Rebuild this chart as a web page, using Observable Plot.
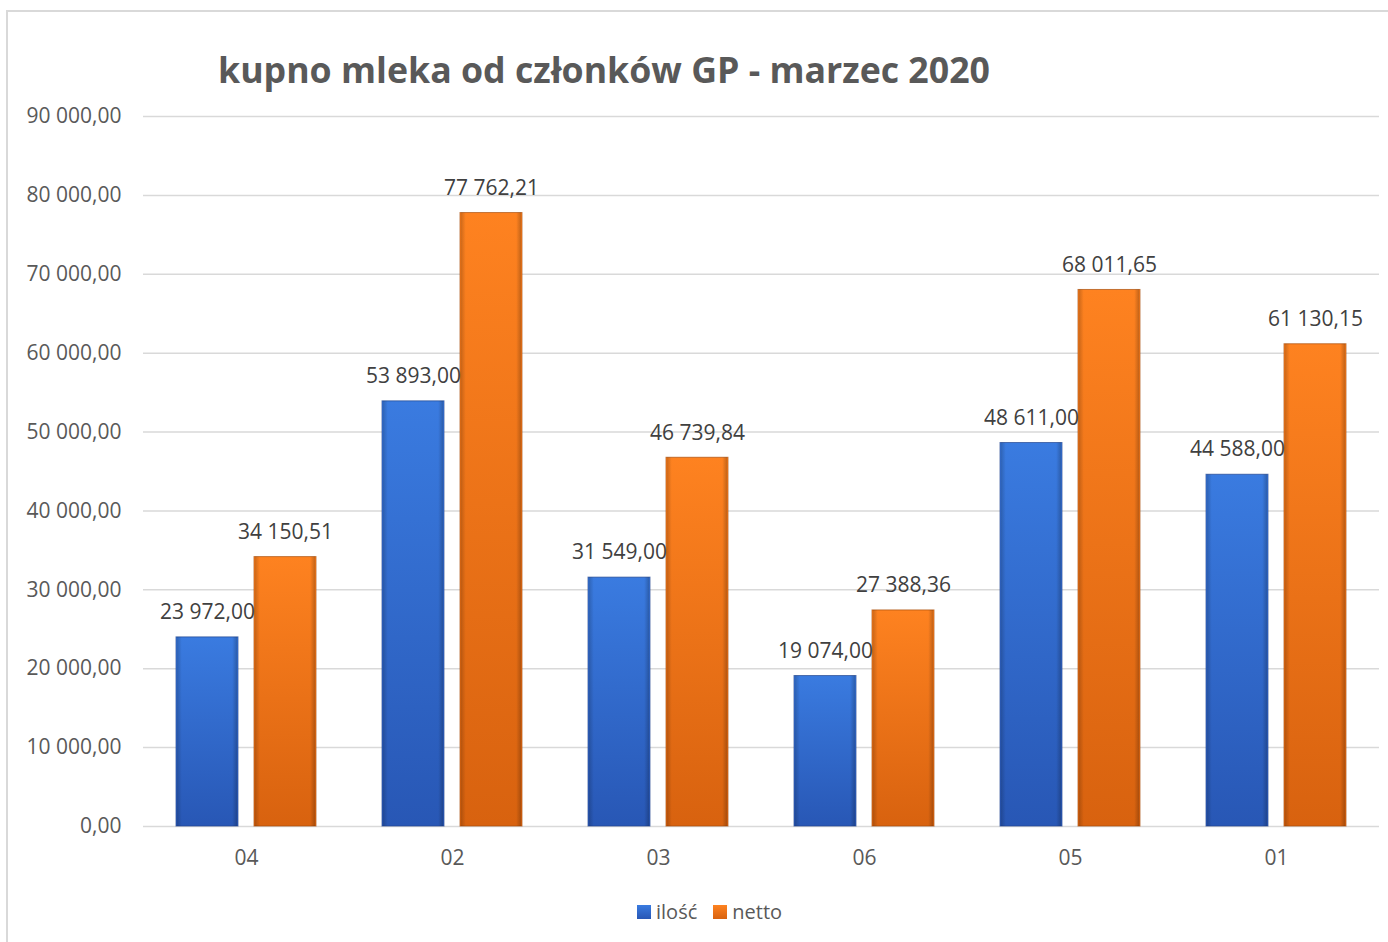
<!DOCTYPE html>
<html>
<head>
<meta charset="utf-8">
<script src="https://cdn.jsdelivr.net/npm/d3@7"></script>
<script src="https://cdn.jsdelivr.net/npm/@observablehq/plot@0.6"></script>
<style>
  html, body { margin: 0; padding: 0; background: #fff; overflow: hidden; }
  body { width: 1388px; height: 942px; position: relative; font-family: "Open Sans", Lato, sans-serif; }
  #frame { position: absolute; left: 6px; top: 10px; width: 1400px; height: 960px; border: 2px solid #d9d9d9; box-sizing: border-box; }
  #title { position: absolute; left: 218px; top: 45px; font-size: 35.7px; font-weight: 700; color: #595959; white-space: nowrap; }
  #chart { position: absolute; left: 0; top: 0; }
  #legend { position: absolute; top: 898px; left: 637px; font-size: 20px; color: #595959; display: flex; align-items: center; }
  #legend .sw { width: 14px; height: 14px; display: inline-block; margin-right: 5px; }
  #legend .item { display: flex; align-items: center; margin-right: 16px; }
</style>
</head>
<body>
<div id="frame"></div>
<div id="title">kupno mleka od członków GP - marzec 2020</div>
<div id="chart"></div>
<div id="legend"></div>
<script>
// ---- data ----
const categories = ["04", "02", "03", "06", "05", "01"];
const seriesNames = ["ilość", "netto"];
const ilosc = [23972.00, 53893.00, 31549.00, 19074.00, 48611.00, 44588.00];
const netto = [34150.51, 77762.21, 46739.84, 27388.36, 68011.65, 61130.15];
const yTicks = [0, 10000, 20000, 30000, 40000, 50000, 60000, 70000, 80000, 90000];

const rows = [];
categories.forEach((c, i) => {
  rows.push({cat: c, series: seriesNames[0], value: ilosc[i]});
  rows.push({cat: c, series: seriesNames[1], value: netto[i]});
});

const pl = d3.formatLocale({decimal: ",", thousands: " ", grouping: [3], currency: ["", ""]});
const fmt = pl.format(",.2f");

const W = 1388, ML = 142, MR = 7;
const pIn = 0.31, pOut = 0.155;
const step = (W - ML - MR) / categories.length;
// half of the gap between facet groups, so per-facet gridlines join up
const gapHalf = step * pIn / 2;
const outerGap = step * pOut;

const chart = Plot.plot({
  width: W,
  height: 886,
  marginLeft: ML,
  marginRight: MR,
  marginTop: 116,
  marginBottom: 60,
  style: {fontFamily: "'Open Sans', Lato, sans-serif", background: "transparent", overflow: "visible"},
  fx: {domain: categories, paddingInner: pIn, paddingOuter: pOut, label: null},
  x: {domain: seriesNames, paddingInner: 0.2, paddingOuter: 0, axis: null},
  y: {domain: [0, 90000], label: null},
  color: {domain: seriesNames, range: ["url(#gBlue)", "url(#gOrange)"]},
  marks: [
    Plot.ruleY(yTicks, {y: d => d, stroke: "#d9d9d9", strokeWidth: 1.5, insetLeft: -gapHalf, insetRight: -gapHalf}),
    Plot.axisY({ticks: yTicks, tickFormat: fmt, tickSize: 0, tickPadding: 22 + outerGap, fontSize: 21, fill: "#595959", label: null}),
    Plot.axisFx({anchor: "bottom", tickSize: 0, tickPadding: 24, fontSize: 21, fill: "#595959", label: null}),
    Plot.barY(rows, {fx: "cat", x: "series", y: "value", fill: "series",
      stroke: d => d.series === "ilość" ? "#22468f" : "#a94f0c", strokeWidth: 1, strokeOpacity: 0.7,
      style: {filter: "drop-shadow(1px 2px 2px rgba(0,0,0,0.25))"}}),
    Plot.barY(rows, {fx: "cat", x: "series", y: "value", fill: "url(#gEdge)", insetLeft: 1, insetRight: 1}),
    Plot.text(rows, {fx: "cat", x: "series", y: "value", text: d => fmt(d.value), dy: -25,
      fontSize: 21, fill: "#404040"})
  ]
});

// gradients
const ns = "http://www.w3.org/2000/svg";
const defs = document.createElementNS(ns, "defs");
defs.innerHTML = `
  <linearGradient id="gBlue" x1="0" y1="0" x2="0" y2="1">
    <stop offset="0" stop-color="#3a7be0"/>
    <stop offset="1" stop-color="#2857b5"/>
  </linearGradient>
  <linearGradient id="gOrange" x1="0" y1="0" x2="0" y2="1">
    <stop offset="0" stop-color="#fe8220"/>
    <stop offset="1" stop-color="#d8620f"/>
  </linearGradient>
  <linearGradient id="gEdge" x1="0" y1="0" x2="1" y2="0">
    <stop offset="0" stop-color="#000" stop-opacity="0.18"/>
    <stop offset="0.08" stop-color="#000" stop-opacity="0"/>
    <stop offset="0.92" stop-color="#000" stop-opacity="0"/>
    <stop offset="1" stop-color="#000" stop-opacity="0.22"/>
  </linearGradient>`;
chart.insertBefore(defs, chart.firstChild);
document.getElementById("chart").appendChild(chart);

// legend
const legend = document.getElementById("legend");
const legendFills = ["linear-gradient(#3a7be0,#2857b5)", "linear-gradient(#fe8220,#d8620f)"];
seriesNames.forEach((s, i) => {
  const item = document.createElement("span");
  item.className = "item";
  item.innerHTML = `<span class="sw" style="background:${legendFills[i]}"></span>${s}`;
  legend.appendChild(item);
});
</script>
</body>
</html>
